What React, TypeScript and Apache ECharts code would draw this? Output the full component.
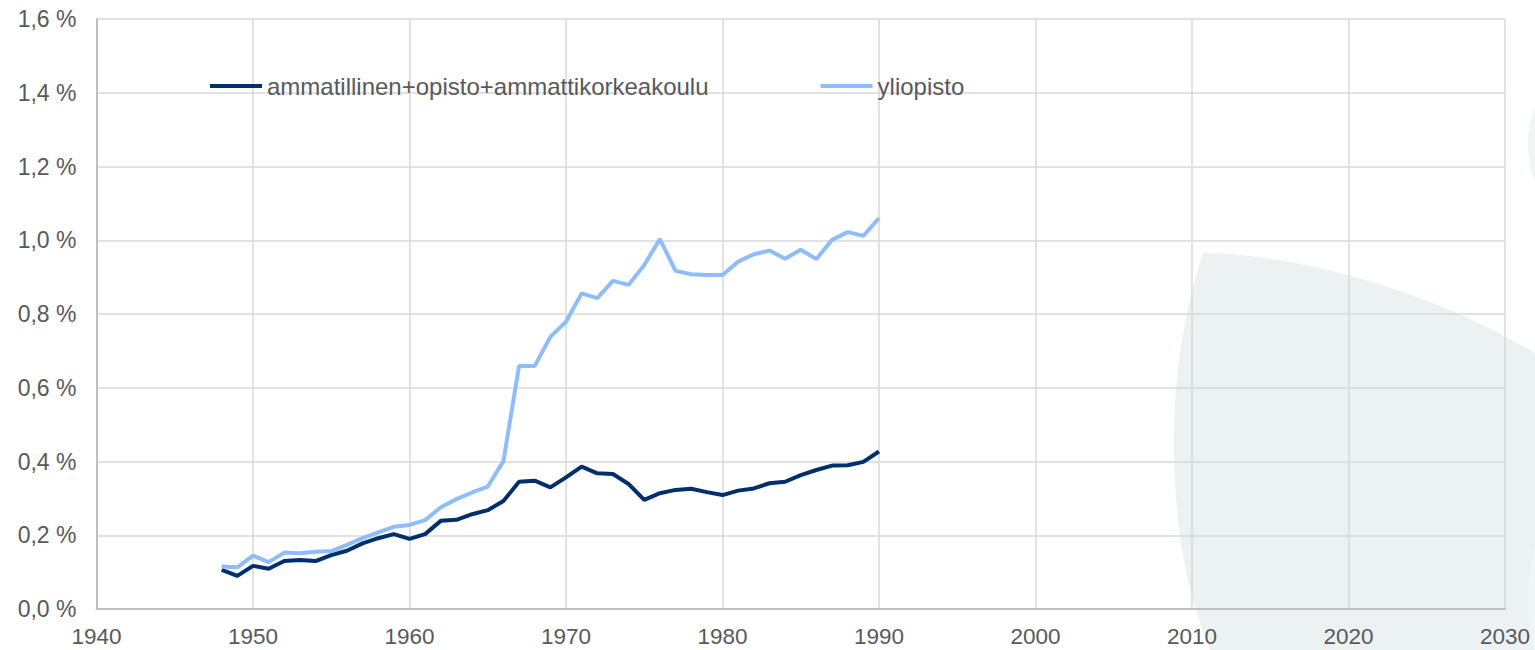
import React, { useEffect, useRef } from "react";
import * as echarts from "echarts";

const years: number[] = [];
for (let y = 1948; y <= 1990; y++) years.push(y);

const ammatillinen = [0.106, 0.090, 0.117, 0.109, 0.130, 0.133, 0.130, 0.146, 0.158, 0.178, 0.192, 0.203, 0.190, 0.203, 0.239, 0.242, 0.257, 0.268, 0.293, 0.345, 0.348, 0.330, 0.357, 0.386, 0.368, 0.366, 0.339, 0.296, 0.314, 0.323, 0.326, 0.317, 0.309, 0.321, 0.327, 0.341, 0.345, 0.363, 0.377, 0.389, 0.390, 0.399, 0.427];
const yliopisto = [0.115, 0.113, 0.145, 0.127, 0.153, 0.151, 0.155, 0.157, 0.174, 0.192, 0.208, 0.223, 0.228, 0.241, 0.276, 0.298, 0.316, 0.332, 0.401, 0.659, 0.659, 0.738, 0.779, 0.856, 0.843, 0.890, 0.879, 0.933, 1.003, 0.917, 0.908, 0.906, 0.906, 0.942, 0.962, 0.972, 0.950, 0.974, 0.949, 1.001, 1.022, 1.012, 1.060];

const seriesNames = ["ammatillinen+opisto+ammattikorkeakoulu", "yliopisto"];
const seriesColors = ["#002F6C", "#8FBCFA"];

const BLOB_D = "M1203 253 C1290 254 1420 285 1535 353 L1535 650 L1210 650 C1185 590 1174 520 1174 440 C1174 370 1186 305 1203 253 Z";
echarts.graphic.registerShape("blob", echarts.graphic.extendPath(BLOB_D, {}) as any);

export default function App() {
  const ref = useRef<HTMLDivElement>(null);
  useEffect(() => {
    document.body.style.margin = "0";
    const chart = echarts.init(ref.current!, null, { renderer: "svg" });
    const font = "'Liberation Sans', Arial, sans-serif";
    chart.setOption({
      animation: false,
      backgroundColor: "#FFFFFF",
      textStyle: { fontFamily: font },
      graphic: [
        { type: "blob", x: 0, y: 0, z: -10, silent: true, style: { fill: "#ECF2F2" } },
        { type: "ellipse", z: -10, silent: true, shape: { cx: 1610, cy: 145, rx: 82, ry: 90 }, style: { fill: "#F1F5F5" } },
        { type: "ellipse", z: -10, silent: true, shape: { cx: 1610, cy: 600, rx: 82, ry: 130 }, style: { fill: "#F1F5F5" } },
      ],
      grid: { left: 96.5, right: 30, top: 19, bottom: 41, containLabel: false },
      legend: {
        left: 205,
        top: 69,
        icon: "rect",
        itemWidth: 52,
        itemHeight: 4,
        itemGap: 112,
        textStyle: { color: "#595959", fontSize: 24, fontFamily: font },
        data: seriesNames,
      },
      xAxis: {
        type: "value",
        min: 1940,
        max: 2030,
        interval: 10,
        axisLine: { show: true, lineStyle: { color: "#BFBFBF", width: 2 } },
        axisTick: { show: false },
        axisLabel: { color: "#595959", fontSize: 22.5, fontFamily: font, margin: 16, formatter: (v: number) => String(v) },
        splitLine: { show: true, lineStyle: { color: "#D9D9D9", width: 1.5 } },
      },
      yAxis: {
        type: "value",
        min: 0,
        max: 1.6,
        interval: 0.2,
        axisLine: { show: true, lineStyle: { color: "#BFBFBF", width: 2 } },
        axisTick: { show: false },
        axisLabel: {
          color: "#595959",
          fontSize: 23,
          fontFamily: font,
          margin: 20,
          formatter: (v: number) => v.toFixed(1).replace(".", ",") + " %",
        },
        splitLine: { show: true, lineStyle: { color: "#D9D9D9", width: 1.5 } },
      },
      series: [
        {
          name: seriesNames[0],
          type: "line",
          symbol: "none",
          data: years.map((y, i) => [y, ammatillinen[i]]),
          lineStyle: { color: seriesColors[0], width: 4 },
          itemStyle: { color: seriesColors[0] },
        },
        {
          name: seriesNames[1],
          type: "line",
          symbol: "none",
          data: years.map((y, i) => [y, yliopisto[i]]),
          lineStyle: { color: seriesColors[1], width: 4 },
          itemStyle: { color: seriesColors[1] },
        },
      ],
    });
    return () => chart.dispose();
  }, []);
  return <div ref={ref} style={{ width: 1535, height: 650 }} />;
}
